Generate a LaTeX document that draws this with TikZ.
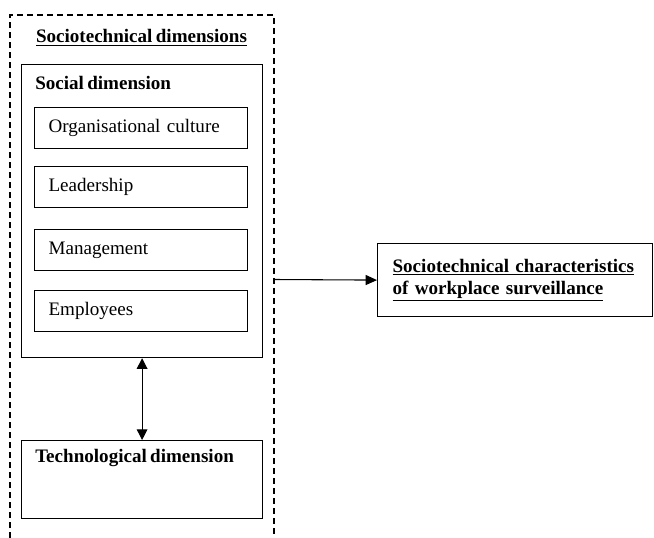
\documentclass[tikz,border=0pt]{standalone}
\usepackage{fontspec}
\setmainfont[WordSpace=0.7]{Liberation Serif}
\usetikzlibrary{arrows.meta}

\tikzset{
  box/.style={draw, line width=0.9pt, rectangle, anchor=north west, inner sep=0pt},
  itembox/.style={box, minimum width=159.75pt, minimum height=30.75pt, inner xsep=10.5pt,
    text width=138.75pt, align=left, text height=10pt, text depth=3.2pt},
  frame/.style={line width=1.1pt, dash pattern=on 4.5pt off 3pt},
  tip/.style={line width=0.8pt},
}

\begin{document}
\begin{tikzpicture}[x=0.75pt, y=-0.75pt, font=\fontsize{14.3pt}{16pt}\selectfont]
\useasboundingbox (0,0) rectangle (654,538);
%\draw[step=20,gray,very thin] (0,0) grid (654,538); %bckgr grid

\draw[frame] (10,538) -- (10,15) -- (274,15) -- (274,538);
\node[anchor=base, font=\fontsize{14.3pt}{16pt}\selectfont\bfseries] (title) at (141.5,43) {\underline{Sociotechnical dimensions}};

% social side
\node[box, minimum width=180.75pt, minimum height=219.75pt] (social) at (21,64) {};
\node[anchor=base west, inner sep=0pt, font=\fontsize{14.3pt}{16pt}\selectfont\bfseries] (sociallbl) at (35,90) {Social dimension};

\node[itembox] (culture) at (34,107) {Organisational culture};
\node[itembox] (leader) at (34,166) {Leadership};
\node[itembox] (manage) at (34,229) {Management};
\node[itembox] (employ) at (34,290) {Employees};

% technical side
\node[box, minimum width=180.75pt, minimum height=58.5pt] (tech) at (21,440) {};
\node[anchor=base west, inner sep=0pt, font=\fontsize{14.3pt}{16pt}\selectfont\bfseries] (techlbl) at (35,463) {Technological dimension};

\draw[tip, {Triangle[length=8pt,width=8pt]}-{Triangle[length=8pt,width=8pt]}] (social.south) -- (tech.north);

% outcome
\node[box, minimum width=206.25pt, minimum height=54.75pt, inner xsep=11.25pt, text width=183.75pt, align=left,
  font=\fontsize{14.3pt}{16pt}\selectfont\bfseries] (result) at (377,243)
  {\underline{Sociotechnical characteristics}\\\underline{of workplace surveillance}};

\coordinate (exit) at (274,279.5);
\draw[tip, -{Triangle[length=8.5pt,width=7.5pt]}] (exit) -- (result.west);

\end{tikzpicture}
\end{document}
